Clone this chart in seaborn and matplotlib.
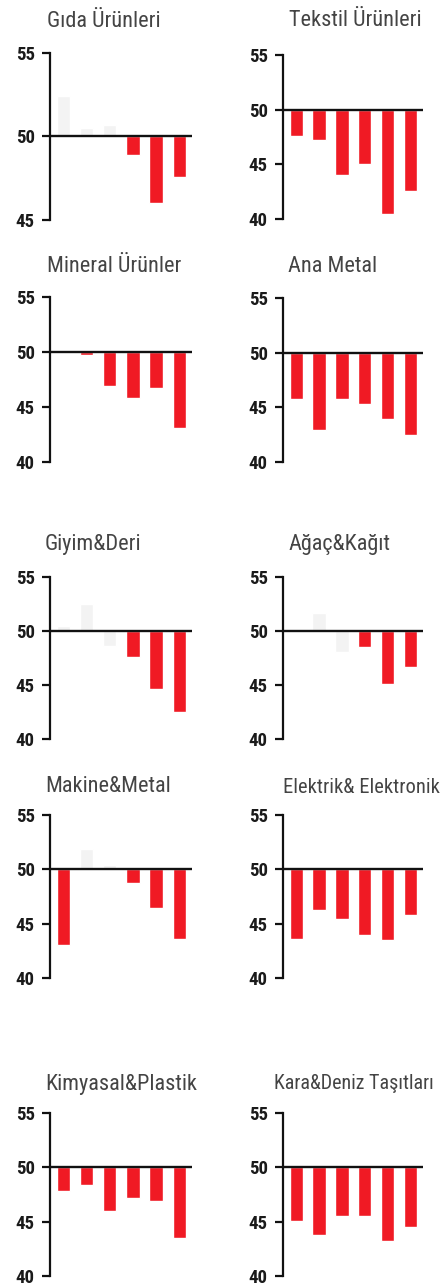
import matplotlib
matplotlib.use("Agg")
import matplotlib.pyplot as plt
import numpy as np
import pandas as pd
import seaborn as sns

sns.set_style("white")
plt.rcParams["font.family"] = ["Liberation Sans Narrow", "DejaVu Sans Condensed", "Roboto Condensed", "DejaVu Sans"]

# panel titles and six monthly index values per panel (threshold 50)
titles = [
    "Gıda Ürünleri", "Tekstil Ürünleri",
    "Mineral Ürünler", "Ana Metal",
    "Giyim&Deri", "Ağaç&Kağıt",
    "Makine&Metal", "Elektrik& Elektronik",
    "Kimyasal&Plastik", "Kara&Deniz Taşıtları",
]
months = ["M1", "M2", "M3", "M4", "M5", "M6"]
gida = [52.4, 50.5, 50.7, 48.9, 46.0, 47.6]
tekstil = [47.6, 47.2, 44.0, 45.0, 40.5, 42.6]
mineral = [50.1, 49.7, 46.9, 45.8, 46.7, 43.1]
ana_metal = [45.8, 42.9, 45.8, 45.3, 43.9, 42.5]
giyim = [50.5, 52.5, 48.6, 47.6, 44.6, 42.5]
agac = [50.0, 51.7, 48.1, 48.5, 45.1, 46.7]
makine = [43.0, 51.9, 50.4, 48.7, 46.4, 43.6]
elektrik = [43.6, 46.3, 45.4, 44.0, 43.5, 45.8]
kimyasal = [47.8, 48.4, 46.0, 47.2, 46.9, 43.5]
kara = [45.1, 43.8, 45.5, 45.5, 43.2, 44.5]
series = [gida, tekstil, mineral, ana_metal, giyim, agac, makine, elektrik, kimyasal, kara]
# bars shown in faded grey instead of red
faded = [[0, 1, 2], [], [0], [], [0, 1, 2], [0, 1, 2], [1, 2], [], [], []]
y_low = [45, 40, 40, 40, 40, 40, 40, 40, 40, 40]

RED = "#f01a24"
FAINT = "#f3f3f3"
W, H = 443, 1288

fig = plt.figure(figsize=(W / 100, H / 100), dpi=100)
fig.patch.set_facecolor("white")

# pixel layout: (spine x, line end x, top y, bottom y, title x, title baseline y, title size)
layout = [
    (50, 192, 53, 220, 47, 27, 16), (283, 423, 55, 219, 289, 26, 16),
    (50, 192, 297, 462, 47, 272, 16), (283, 423, 298, 462, 288, 272, 16),
    (50, 192, 577, 739, 45, 550, 16), (283, 423, 577, 739, 288, 550, 16),
    (50, 192, 815, 978, 45, 792, 16), (283, 423, 815, 978, 283, 793, 14.8),
    (50, 192, 1113, 1276, 45, 1090, 16), (283, 423, 1113, 1276, 274, 1089, 14.4),
]

for k, (vals, title) in enumerate(zip(series, titles)):
    x0, x1, ytop, ybot, tx, ty, tsize = layout[k]
    ax = fig.add_axes((x0 / W, 1 - ybot / H, (x1 - x0) / W, (ybot - ytop) / H))
    df = pd.DataFrame({"month": months, "diff": np.array(vals) - 50})
    df["kind"] = ["faint" if i in faded[k] else "red" for i in range(len(vals))]
    sns.barplot(data=df, x="month", y="diff", hue="kind", bottom=50,
                palette={"red": RED, "faint": FAINT}, width=0.58,
                dodge=False, legend=False, ax=ax, saturation=1)
    ax.axhline(50, color="#111111", lw=1.7, zorder=5)
    ax.set_xlim(-0.58, 5.55)
    ax.set_ylim(y_low[k], 55)
    ax.set_yticks(np.arange(y_low[k], 56, 5))
    ax.set_xticks([])
    ax.set_xlabel("")
    ax.set_ylabel("")
    for s in ["top", "right", "bottom"]:
        ax.spines[s].set_visible(False)
    ax.spines["left"].set_color("#111111")
    ax.spines["left"].set_linewidth(1.6)
    ax.tick_params(axis="y", length=6, width=1.6, color="#111111", pad=5,
                   left=True, labelsize=13.5, labelcolor="#1a1a1a")
    for lab in ax.get_yticklabels():
        lab.set_fontweight("bold")
    ax.patch.set_alpha(0)
    fig.text(tx / W, 1 - ty / H, title, fontsize=tsize, color="#444444",
             ha="left", va="baseline")

fig.savefig("out.png", dpi=100, facecolor="white")
